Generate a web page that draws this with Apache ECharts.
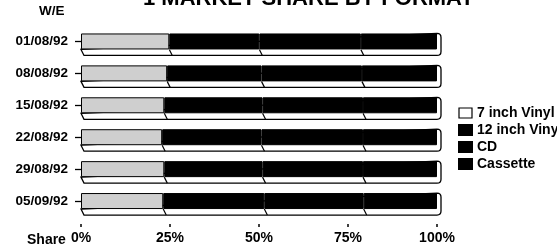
<!DOCTYPE html>
<html>
<head>
<meta charset="utf-8">
<script src="https://cdn.jsdelivr.net/npm/echarts@6/dist/echarts.min.js"></script>
<style>
html, body { margin: 0; padding: 0; background: #fff; }
#chart { width: 557px; height: 245px; }
</style>
</head>
<body>
<div id="chart"></div>
<script>
const weeks = ['01/08/92', '08/08/92', '15/08/92', '22/08/92', '29/08/92', '05/09/92'];
const formats = ['7 inch Vinyl', '12 inch Vinyl', 'CD', 'Cassette'];
const vinyl7 = [24.8, 24.2, 23.4, 22.8, 23.4, 23.1];
const vinyl12 = [25.3, 26.5, 27.6, 27.9, 27.6, 28.4];
const cd = [28.5, 28.2, 28.2, 28.5, 28.2, 27.9];
const cassette = [21.4, 21.1, 20.8, 20.8, 20.8, 20.6];
const shareTicks = [0, 25, 50, 75, 100];

const font = '"Liberation Sans", Arial, sans-serif';
const barH = 16;
const depth = 6;

// cumulative edges for the 3D bottom face: [7", +12", +CD, total, week index]
const edges = weeks.map(function (w, i) {
    const a = vinyl7[i];
    const b = a + vinyl12[i];
    const c = b + cd[i];
    return [a, b, c, c + cassette[i], i];
});

function renderDepth(params, api) {
    const i = api.value(4);
    const left = api.coord([0, i]);
    const right = api.coord([api.value(3), i]);
    const yT = left[1] - barH / 2;
    const yB = left[1] + barH / 2;
    const x0 = left[0];
    const x1 = right[0];
    const yD = yB + depth;
    const children = [{
        type: 'path',
        shape: {
            pathData: 'M' + x0 + ' ' + yB + ' L' + (x0 + 3) + ' ' + yD +
                ' L' + x1 + ' ' + yD + ' Q' + (x1 + 4) + ' ' + yD + ' ' + (x1 + 4) + ' ' + (yD - 4) +
                ' L' + (x1 + 4) + ' ' + (yT + 4) + ' Q' + (x1 + 4) + ' ' + yT + ' ' + x1 + ' ' + yT + ' Z'
        },
        style: { fill: '#fff', stroke: '#000', lineWidth: 1.3 }
    }];
    for (let k = 0; k < 3; k++) {
        const xb = api.coord([api.value(k), i])[0];
        children.push({
            type: 'line',
            shape: { x1: xb, y1: yB, x2: xb + 3, y2: yD },
            style: { stroke: '#000', lineWidth: 1.2 }
        });
    }
    return { type: 'group', children: children };
}

function barSeries(name, data, color) {
    return {
        name: name,
        type: 'bar',
        stack: 'share',
        data: data,
        barWidth: barH,
        z: 3,
        itemStyle: { color: color, borderColor: '#000', borderWidth: 1 }
    };
}

const chart = echarts.init(document.getElementById('chart'));
chart.setOption({
    animation: false,
    backgroundColor: '#fff',
    grid: { left: 81, right: 120, top: 25.5, bottom: 27.5 },
    legend: {
        orient: 'vertical',
        left: 453,
        top: 101,
        itemWidth: 13,
        itemHeight: 10,
        itemGap: 3,
        icon: 'rect',
        textStyle: { fontFamily: font, fontWeight: 'bold', fontSize: 14, color: '#000' },
        data: [
            { name: formats[0], itemStyle: { color: '#fff', borderColor: '#000', borderWidth: 1.2 } },
            { name: formats[1] },
            { name: formats[2] },
            { name: formats[3] }
        ]
    },
    xAxis: {
        type: 'value',
        min: shareTicks[0],
        max: shareTicks[shareTicks.length - 1],
        interval: 25,
        offset: 7,
        axisLine: { show: false },
        axisTick: { show: true, length: 3, lineStyle: { color: '#000', width: 1.5 } },
        splitLine: { show: false },
        axisLabel: {
            formatter: '{value}%',
            margin: 7,
            color: '#000',
            fontFamily: font,
            fontWeight: 'bold',
            fontSize: 14
        }
    },
    yAxis: {
        type: 'category',
        data: weeks,
        inverse: true,
        axisLine: { show: false },
        axisTick: { show: true, alignWithLabel: true, length: 6, lineStyle: { color: '#000', width: 1.3 } },
        axisLabel: {
            margin: 13,
            padding: [6, 0, 0, 0],
            color: '#000',
            fontFamily: font,
            fontWeight: 'bold',
            fontSize: 13.5
        }
    },
    graphic: [
        {
            type: 'text', left: 143, top: -12,
            style: { text: '1 MARKET SHARE BY FORMAT', font: 'bold 22px ' + font, fill: '#000' }
        },
        {
            type: 'text', left: 39, top: 4,
            style: { text: 'W/E', font: 'bold 13.5px ' + font, fill: '#000' }
        },
        {
            type: 'text', left: 27, top: 233,
            style: { text: 'Share', font: 'bold 14px ' + font, fill: '#000' }
        }
    ],
    series: [
        {
            type: 'custom',
            name: 'depth',
            renderItem: renderDepth,
            data: edges,
            encode: { x: [0, 1, 2, 3], y: 4 },
            z: 1,
            silent: true
        },
        barSeries(formats[0], vinyl7, '#cfcfcf'),
        barSeries(formats[1], vinyl12, '#000'),
        barSeries(formats[2], cd, '#000'),
        barSeries(formats[3], cassette, '#000')
    ]
});
</script>
</body>
</html>
